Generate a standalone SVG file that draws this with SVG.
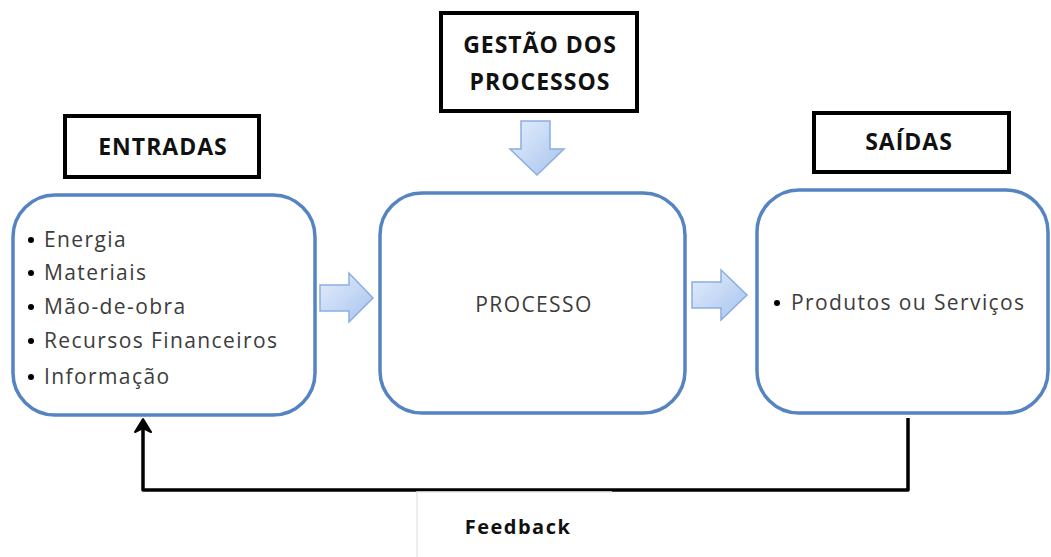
<svg xmlns="http://www.w3.org/2000/svg" width="1051" height="557" viewBox="0 0 1051 557">
<defs>
<linearGradient id="ga" x1="0" y1="0" x2="1" y2="1">
<stop offset="0" stop-color="#e4eefc"/>
<stop offset="1" stop-color="#a7c3ee"/>
</linearGradient>
</defs>
<style>
.hdr{fill:#fff;stroke:#000;stroke-width:4}
.hdrt{font-family:"Open Sans",sans-serif;font-weight:bold;font-size:23px;letter-spacing:1px;fill:#111;text-anchor:middle}
.rbox{fill:#fff;stroke:#5584c2;stroke-width:3.5}
.item{font-family:"Open Sans",sans-serif;font-size:21px;letter-spacing:1.4px;fill:#3c3c3c}
.blk{fill:url(#ga);stroke:#8aaee0;stroke-width:1.5}
.fb{fill:none;stroke:#000;stroke-width:3.5;stroke-linejoin:round}
</style>
<rect width="1051" height="557" fill="#fff"/>

<g id="gestao">
<rect class="hdr" x="441" y="13" width="196" height="98"/>
<text class="hdrt" x="540" y="53">GESTÃO DOS</text>
<text class="hdrt" x="540" y="90">PROCESSOS</text>
</g>

<g id="entradas-header">
<rect class="hdr" x="65" y="116" width="194" height="61"/>
<text class="hdrt" x="163" y="155">ENTRADAS</text>
</g>

<g id="saidas-header">
<rect class="hdr" x="814" y="113" width="195" height="59"/>
<text class="hdrt" x="909" y="150">SAÍDAS</text>
</g>

<g id="entradas">
<rect class="rbox" x="13" y="195" width="302" height="220" rx="42"/>
<g class="item">
<circle cx="31" cy="240" r="3" fill="#000"/><text x="44" y="247">Energia</text>
<circle cx="31" cy="273" r="3" fill="#000"/><text x="44" y="280">Materiais</text>
<circle cx="31" cy="307" r="3" fill="#000"/><text x="44" y="314">Mão-de-obra</text>
<circle cx="31" cy="341" r="3" fill="#000"/><text x="44" y="348">Recursos Financeiros</text>
<circle cx="31" cy="377" r="3" fill="#000"/><text x="44" y="384">Informação</text>
</g>
</g>

<g id="processo">
<rect class="rbox" x="380" y="193" width="305" height="220" rx="42"/>
<text class="item" x="534" y="312" text-anchor="middle">PROCESSO</text>
</g>

<g id="saidas">
<rect class="rbox" x="757" y="190" width="291" height="223" rx="42"/>
<circle cx="777" cy="303" r="3" fill="#000"/>
<text class="item" x="791" y="310">Produtos ou Serviços</text>
</g>

<g id="connectors">
<path class="blk" d="M320,285 H349 V273 L373,298 L349,322 V311 H320 Z"/>
<path class="blk" d="M692,282 H721 V270 L747,295 L721,320 V308 H692 Z"/>
<path class="blk" d="M521,121 H550 V149 H564 L537,175 L510,149 H521 Z"/>
<path class="fb" d="M908,418 V490 H143 V428"/>
<path d="M143,419 L135,432 L143,428 L151,432 Z" fill="#000" stroke="#000" stroke-width="2" stroke-linejoin="round"/>
</g>

<g id="feedback">
<path d="M417,557 V492 H612" fill="none" stroke="#e8e8e8" stroke-width="1.5"/>
<text x="518" y="534" font-family="Open Sans, sans-serif" font-weight="bold" font-size="20" letter-spacing="1.5" fill="#111" text-anchor="middle">Feedback</text>
</g>
</svg>
